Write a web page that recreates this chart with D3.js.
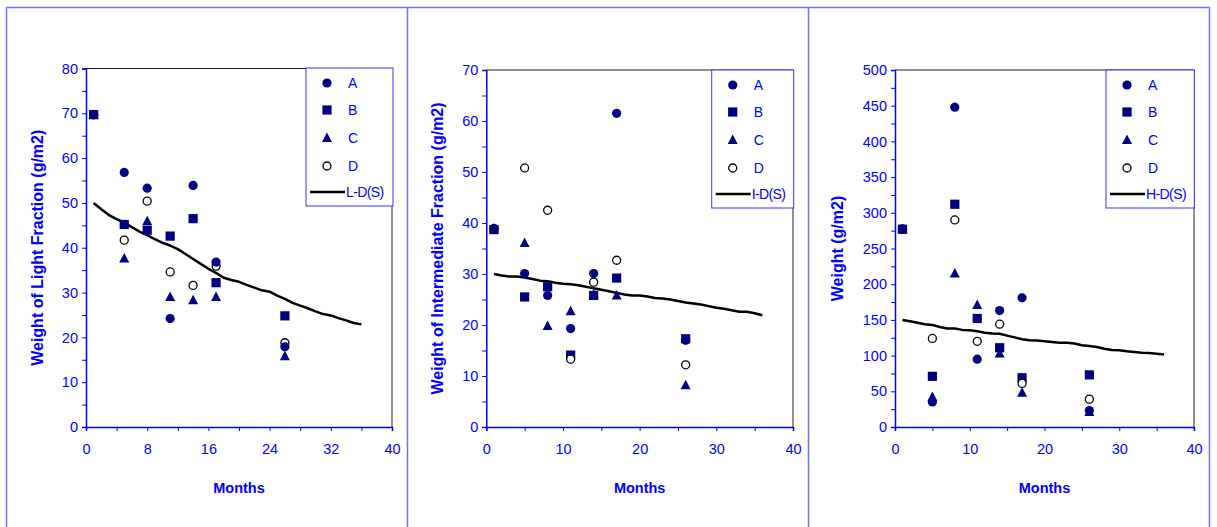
<!DOCTYPE html>
<html>
<head>
<meta charset="utf-8">
<title>Fraction weights against months</title>
<script src="https://d3js.org/d3.v7.min.js"></script>
<style>
  body { margin: 0; background: #fff; font-family: "Liberation Sans", Arial, sans-serif; }
  .tick-label { font-size: 14.5px; fill: #0000ff; }
  .axis-title { font-weight: bold; fill: #0000ff; }
  .legend-text { font-size: 14px; fill: #0000ff; }
</style>
</head>
<body>
<svg id="chart" width="1217" height="527"></svg>
<script>
// sampling months
const months = [1, 5, 8, 11, 14, 17, 26];
const lineMonths = d3.range(1, 37);
const seriesNames = ['A', 'B', 'C', 'D'];
const drawOrder = [1, 2, 3, 0]; // B, C, D, then A on top

// Light fraction (g/m2)
const lightA = [69.7, 56.8, 53.3, 24.2, 53.9, 36.8, 17.9];
const lightB = [69.7, 45.2, 43.9, 42.6, 46.5, 32.2, 24.8];
const lightC = [69.7, 37.6, 45.9, 29.0, 28.3, 29.0, 15.8];
const lightD = [69.7, 41.7, 50.4, 34.6, 31.6, 35.9, 18.8];
const lightLine = [50.0, 48.6, 47.3, 46.4, 45.6, 44.6, 43.6, 42.8, 41.9, 41.1, 40.5, 39.7,
  38.6, 37.5, 36.4, 35.3, 34.4, 33.3, 32.8, 32.4, 31.7, 31.1, 30.5, 30.2,
  29.3, 28.6, 27.7, 27.1, 26.5, 25.8, 25.2, 24.9, 24.3, 23.8, 23.2, 22.9];

// Intermediate fraction (g/m2)
const interA = [38.9, 30.1, 25.8, 19.3, 30.1, 61.5, 17.0];
const interB = [38.7, 25.5, 27.5, 14.1, 25.8, 29.2, 17.3];
const interC = [38.9, 36.1, 19.8, 22.7, 26.0, 25.8, 8.2];
const interD = [38.9, 50.8, 42.5, 13.3, 28.4, 32.7, 12.2];
const interLine = [30.0, 29.7, 29.5, 29.5, 29.3, 29.0, 28.7, 28.6, 28.3, 28.1, 28.0, 27.8,
  27.5, 27.2, 26.9, 26.6, 26.3, 26.0, 25.8, 25.8, 25.6, 25.3, 25.2, 25.0,
  24.7, 24.4, 24.2, 24.0, 23.7, 23.4, 23.2, 22.9, 22.6, 22.6, 22.3, 21.9];

// Heavy fraction weight (g/m2)
const heavyA = [277, 35, 448, 95, 163, 181, 23];
const heavyB = [277, 71, 312, 152, 111, 69, 73];
const heavyC = [277, 42, 215, 171, 103, 48, 21];
const heavyD = [277, 124, 290, 120, 144, 61, 39];
const heavyLine = [150, 148, 146, 144, 143, 140, 138, 138, 136, 135.5, 134, 132,
  131, 130.5, 128, 125.5, 123, 121.5, 121, 120, 119, 118, 118, 117,
  114.5, 113.5, 112, 109.5, 108, 107.5, 106, 105, 104, 103.5, 102.5, 101.5];

const panels = [
  { left: 86, right: 392, top: 68.5, bottom: 427,
    yMax: 80, yStep: 10, xStep: 8, titleDx: 43,
    yTitle: 'Weight of Light Fraction (g/m2)', lineName: 'L-D(S)',
    series: [lightA, lightB, lightC, lightD], line: lightLine,
    legend: { x: 306, y: 68, w: 87, h: 138 } },
  { left: 486.3, right: 793, top: 70, bottom: 427,
    yMax: 70, yStep: 10, xStep: 10, titleDx: 43,
    yTitle: 'Weight of Intermediate Fraction (g/m2)', lineName: 'I-D(S)',
    series: [interA, interB, interC, interD], line: interLine,
    legend: { x: 711.7, y: 70, w: 82, h: 138 } },
  { left: 895, right: 1194, top: 70, bottom: 427,
    yMax: 500, yStep: 50, xStep: 10, titleDx: 52,
    yTitle: 'Weight (g/m2)', lineName: 'H-D(S)',
    series: [heavyA, heavyB, heavyC, heavyD], line: heavyLine,
    legend: { x: 1106, y: 70, w: 88.3, h: 138 } }
];

const svg = d3.select('#chart');
const navy = '#000080';
const frameColor = '#6f6fff';

// outer frame (top edge and dividers)
svg.append('line').attr('x1', 6).attr('x2', 1210).attr('y1', 7.5).attr('y2', 7.5)
  .attr('stroke', frameColor).attr('stroke-width', 1.5);
[6.5, 407.5, 808.5, 1209.5].forEach(x => {
  svg.append('line').attr('x1', x).attr('x2', x).attr('y1', 7).attr('y2', 527)
    .attr('stroke', frameColor).attr('stroke-width', 1.5);
});

function drawMarker(g, type, cx, cy) {
  if (type === 'A') {
    g.append('circle').attr('cx', cx).attr('cy', cy).attr('r', 4.6).attr('fill', navy);
  } else if (type === 'B') {
    g.append('rect').attr('x', cx - 4.6).attr('y', cy - 4.6).attr('width', 9.2).attr('height', 9.2).attr('fill', navy);
  } else if (type === 'C') {
    g.append('path').attr('d', `M${cx},${cy - 5.5}L${cx + 5},${cy + 4}L${cx - 5},${cy + 4}Z`).attr('fill', navy);
  } else {
    g.append('circle').attr('cx', cx).attr('cy', cy).attr('r', 4)
      .attr('fill', '#fff').attr('stroke', '#000').attr('stroke-width', 1.3);
  }
}

panels.forEach(p => {
  const x = d3.scaleLinear().domain([0, 40]).range([p.left, p.right]);
  const y = d3.scaleLinear().domain([0, p.yMax]).range([p.bottom, p.top]);
  const g = svg.append('g');

  // top and right plot border
  g.append('path')
    .attr('d', `M${p.left},${p.top}H${p.right}V${p.bottom}`)
    .attr('fill', 'none').attr('stroke', '#222').attr('stroke-width', 1);

  // y axis
  const yAxis = d3.axisLeft(y)
    .tickValues(d3.range(0, p.yMax + 0.001, p.yStep / 2))
    .tickSize(4)
    .tickFormat(d => (d % p.yStep === 0 ? d : ''));
  const ya = g.append('g').attr('transform', `translate(${p.left},0)`).call(yAxis);
  ya.attr('font-size', null).attr('font-family', null);
  ya.select('.domain').attr('stroke', '#0000ff').attr('stroke-width', 1.5);
  ya.selectAll('.tick line').attr('stroke', '#0000ff');
  ya.selectAll('.tick text').attr('class', 'tick-label').attr('x', -8);

  // x axis
  const xAxis = d3.axisBottom(x)
    .tickValues(d3.range(0, 40.001, p.xStep / 2))
    .tickSize(4)
    .tickFormat(d => (d % p.xStep === 0 ? d : ''));
  const xa = g.append('g').attr('transform', `translate(0,${p.bottom})`).call(xAxis);
  xa.attr('font-size', null).attr('font-family', null);
  xa.select('.domain').attr('stroke', '#0000ff').attr('stroke-width', 1.5);
  xa.selectAll('.tick line').attr('stroke', '#0000ff');
  xa.selectAll('.tick text').attr('class', 'tick-label').attr('y', 17);

  // axis titles
  g.append('text').attr('class', 'axis-title').style('font-size', '16px')
    .attr('transform', `translate(${p.left - p.titleDx},${(p.top + p.bottom) / 2}) rotate(-90)`)
    .attr('text-anchor', 'middle').text(p.yTitle);
  g.append('text').attr('class', 'axis-title').style('font-size', '14.5px')
    .attr('x', (p.left + p.right) / 2).attr('y', 493)
    .attr('text-anchor', 'middle').text('Months');

  // regression line
  const lineGen = d3.line().x((d, i) => x(lineMonths[i])).y(d => y(d));
  g.append('path').datum(p.line).attr('d', lineGen)
    .attr('fill', 'none').attr('stroke', '#000').attr('stroke-width', 2.5)
    .attr('stroke-linejoin', 'round');

  // points
  drawOrder.forEach(si => {
    p.series[si].forEach((v, i) => drawMarker(g, seriesNames[si], x(months[i]), y(v)));
  });

  // legend
  const L = p.legend;
  const lg = g.append('g').attr('transform', `translate(${L.x},${L.y})`);
  lg.append('rect').attr('width', L.w).attr('height', L.h)
    .attr('fill', '#fff').attr('stroke', '#3333ff').attr('stroke-width', 1);
  const rows = [15, 42, 70, 98];
  seriesNames.forEach((name, si) => {
    drawMarker(lg, name, 21, rows[si]);
    lg.append('text').attr('class', 'legend-text').attr('x', 42).attr('y', rows[si] + 5).text(name);
  });
  lg.append('line').attr('x1', 4).attr('x2', 39).attr('y1', 124).attr('y2', 124)
    .attr('stroke', '#000').attr('stroke-width', 2.5);
  lg.append('text').attr('class', 'legend-text').attr('x', 40).attr('y', 129)
    .attr('letter-spacing', '-0.6').text(p.lineName);
});
</script>
</body>
</html>
